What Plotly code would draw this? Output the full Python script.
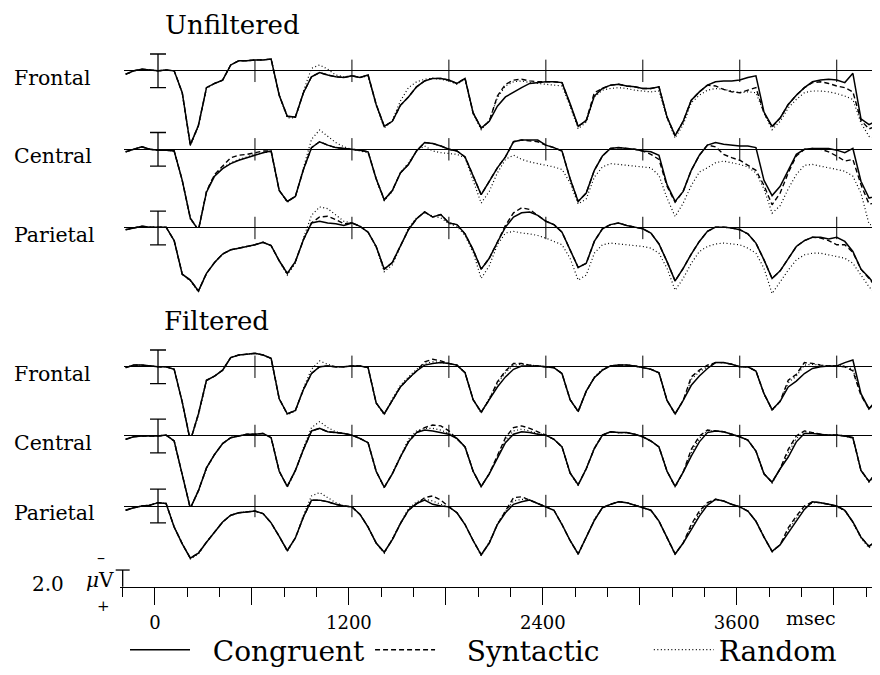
import plotly.graph_objects as go

# sample grid (ms) shared by every waveform
t_ms = list(range(-200, 4501, 50))

# ---- Unfiltered (uV, positive = down) ----
uf_congruent = [
    0.4, 0.0, -0.2, -0.1, 0.0, -0.1, 0.0, 2.6, 8.8, 6.5, 2.0, 1.5,
    1.1, -0.7, -1.2, -1.2, -1.3, -1.3, -1.4, 2.9, 5.4, 5.5, 2.6, 0.7,
    0.2, 0.5, 0.7, 0.8, 0.6, 0.8, 0.5, 4.0, 6.6, 6.0, 4.1, 3.1,
    1.9, 1.2, 0.9, 0.9, 1.1, 1.5, 0.9, 5.0, 6.8, 6.0, 4.2, 3.1,
    2.5, 2.0, 1.5, 1.4, 1.3, 1.3, 1.4, 3.9, 6.6, 5.9, 3.0, 2.1,
    1.7, 1.6, 1.8, 1.9, 2.1, 2.1, 1.9, 5.5, 7.7, 6.0, 3.5, 2.5,
    1.7, 1.3, 1.2, 1.2, 1.1, 0.8, 0.6, 4.9, 6.6, 5.6, 4.0, 2.9,
    2.0, 1.3, 1.1, 1.0, 1.1, 1.4, 0.3, 5.7, 6.4, 5.9, 5.7,
]
uf_syntactic = [
    0.4, 0.0, -0.2, -0.1, 0.0, -0.1, 0.0, 2.6, 8.8, 6.5, 2.0, 1.5,
    1.1, -0.7, -1.2, -1.2, -1.3, -1.3, -1.4, 2.9, 5.4, 5.5, 2.6, 0.7,
    0.2, 0.5, 0.7, 0.8, 0.6, 0.8, 0.5, 4.0, 6.6, 6.0, 4.1, 3.1,
    1.9, 1.2, 0.9, 0.9, 1.1, 1.5, 0.9, 5.0, 6.8, 6.0, 3.0, 1.6,
    1.1, 1.0, 1.2, 1.3, 1.3, 1.3, 1.4, 3.9, 6.6, 5.9, 2.6, 2.1,
    1.7, 1.6, 1.8, 1.9, 2.1, 2.1, 1.9, 5.5, 7.7, 6.0, 3.5, 2.5,
    1.7, 1.8, 2.2, 2.5, 2.6, 2.3, 2.0, 5.0, 6.7, 5.6, 4.0, 2.9,
    2.0, 1.4, 1.3, 1.5, 1.8, 2.0, 2.5, 5.9, 6.9, 6.5, 6.0,
]
uf_random = [
    0.4, 0.0, -0.2, -0.1, 0.0, -0.1, 0.0, 2.6, 8.9, 6.6, 2.1, 1.5,
    1.1, -0.7, -1.2, -1.2, -1.3, -1.3, -1.4, 2.9, 5.6, 5.6, 2.4, -0.3,
    -0.7, -0.2, 0.5, 0.7, 0.6, 0.8, 0.6, 4.1, 6.8, 5.9, 3.6, 2.0,
    1.3, 1.0, 0.9, 1.0, 1.2, 1.6, 1.0, 5.1, 7.0, 5.9, 3.2, 1.8,
    1.3, 1.2, 1.4, 1.5, 1.6, 1.7, 1.8, 4.2, 6.9, 6.1, 3.1, 2.3,
    2.1, 2.0, 2.1, 2.3, 2.4, 2.5, 2.4, 5.6, 8.0, 6.4, 3.8, 2.9,
    2.3, 2.1, 2.2, 2.4, 2.6, 2.5, 2.6, 5.0, 7.0, 6.0, 4.4, 3.4,
    2.6, 2.4, 2.4, 2.5, 2.7, 3.0, 3.4, 6.2, 7.8, 8.1, 7.6,
]
uc_congruent = [
    0.3, 0.0, -0.3, 0.0, 0.1, 0.1, 0.2, 3.7, 8.2, 9.6, 5.1, 3.2,
    2.3, 1.7, 1.3, 1.0, 0.7, 0.4, 0.2, 4.9, 6.2, 5.6, 2.4, -0.2,
    -0.9, -0.5, -0.2, -0.1, 0.0, 0.1, 0.3, 3.5, 6.0, 4.9, 2.8, 1.8,
    0.2, -0.8, -0.7, -0.4, 0.0, 0.2, 0.9, 3.2, 5.4, 3.8, 2.2, 0.9,
    -0.9, -1.1, -1.1, -1.1, -0.5, -0.2, 0.2, 3.5, 6.2, 5.2, 2.5, 0.8,
    -0.1, -0.2, -0.1, 0.0, 0.2, 0.3, 0.7, 4.2, 6.2, 5.0, 2.5, 0.7,
    -0.5, -0.8, -0.6, -0.5, -0.4, -0.4, -0.2, 3.7, 5.5, 4.4, 2.4, 0.6,
    0.0, -0.1, -0.1, -0.1, 0.1, 0.4, -0.1, 3.8, 5.8, 5.5, 5.0,
]
uc_syntactic = [
    0.3, 0.0, -0.3, 0.0, 0.1, 0.1, 0.2, 3.7, 8.2, 9.6, 5.0, 3.0,
    2.0, 1.0, 0.7, 0.6, 0.4, 0.2, 0.2, 4.9, 6.2, 5.6, 2.4, -0.2,
    -0.9, -0.5, -0.2, -0.1, 0.0, 0.1, 0.3, 3.5, 6.0, 4.9, 2.8, 1.8,
    0.2, -0.8, -0.7, -0.4, 0.0, 0.2, 0.9, 3.2, 5.4, 3.8, 2.2, 0.9,
    -0.9, -1.1, -1.0, -0.9, -0.5, -0.2, 0.2, 3.5, 6.2, 5.2, 2.5, 0.8,
    -0.1, -0.2, -0.1, 0.0, 0.2, 0.6, 1.2, 4.4, 6.3, 5.0, 2.5, 0.7,
    -0.5, -0.3, 0.6, 1.0, 1.3, 1.9, 2.5, 4.3, 6.6, 5.2, 2.8, 0.8,
    0.0, -0.1, 0.0, 0.3, 0.8, 1.4, 1.2, 4.2, 6.5, 6.4, 6.0,
]
uc_random = [
    0.3, 0.0, -0.3, 0.0, 0.1, 0.1, 0.2, 3.7, 8.3, 9.6, 5.0, 3.0,
    2.2, 1.6, 1.2, 0.9, 0.6, 0.4, 0.3, 4.8, 6.3, 5.6, 2.2, -1.2,
    -2.3, -1.6, -0.8, -0.3, 0.0, 0.2, 0.4, 3.6, 6.1, 5.0, 2.8, 1.6,
    0.2, -0.4, 0.2, 0.4, 0.5, 0.6, 1.0, 3.6, 6.4, 5.0, 2.8, 1.2,
    0.7, 1.2, 1.5, 1.7, 1.9, 2.1, 2.4, 4.0, 6.5, 5.9, 3.3, 2.1,
    1.7, 1.8, 1.9, 2.0, 2.1, 2.2, 3.1, 5.8, 8.0, 6.4, 4.3, 2.7,
    2.2, 1.6, 1.4, 1.6, 1.8, 2.1, 2.8, 4.7, 7.6, 6.7, 4.7, 3.0,
    1.9, 1.8, 2.0, 2.2, 2.4, 2.6, 3.2, 5.2, 8.9, 9.2, 9.0,
]
up_congruent = [
    0.2, 0.0, -0.2, -0.1, -0.1, -0.1, 1.5, 5.5, 6.2, 7.5, 5.4, 4.1,
    3.1, 2.6, 2.4, 2.2, 2.0, 1.7, 2.1, 3.9, 5.4, 4.0, 1.4, -0.6,
    -0.8, -0.6, -0.5, -0.3, -0.6, -0.2, 0.5, 2.2, 4.9, 4.1, 2.2, 0.2,
    -1.1, -1.9, -1.3, -1.6, -0.6, -0.4, 0.7, 2.6, 4.9, 3.6, 1.7, -0.1,
    -1.3, -1.8, -1.9, -1.5, -0.8, -0.4, 0.5, 2.6, 4.7, 4.2, 1.6, 0.1,
    -0.4, -0.6, -0.3, -0.1, 0.1, 0.6, 1.9, 4.0, 6.3, 4.8, 3.1, 1.6,
    0.4, -0.1, -0.1, 0.0, 0.2, 0.7, 1.8, 3.8, 6.0, 5.1, 3.6, 2.2,
    1.5, 1.1, 1.1, 1.3, 1.1, 1.6, 2.8, 4.9, 5.9, 7.1, 7.8,
]
up_syntactic = [
    0.2, 0.0, -0.2, -0.1, -0.1, -0.1, 1.5, 5.5, 6.2, 7.5, 5.4, 4.1,
    3.1, 2.6, 2.4, 2.2, 2.0, 1.7, 2.1, 3.9, 5.4, 4.0, 1.4, -0.6,
    -1.3, -1.4, -1.0, -0.5, -0.6, -0.2, 0.5, 2.2, 4.9, 4.1, 2.2, 0.2,
    -1.1, -1.9, -1.3, -1.6, -0.6, -0.4, 0.7, 2.6, 4.9, 3.6, 1.7, -0.3,
    -1.8, -2.4, -2.2, -1.5, -0.8, -0.4, 0.5, 2.6, 4.7, 4.2, 1.6, 0.1,
    -0.4, -0.6, -0.3, -0.1, 0.1, 0.6, 1.9, 4.0, 6.3, 4.8, 3.1, 1.6,
    0.4, -0.1, -0.1, 0.0, 0.2, 0.7, 1.8, 3.8, 6.0, 5.1, 3.6, 2.2,
    1.5, 1.1, 1.2, 1.5, 2.0, 2.0, 2.9, 4.9, 6.0, 7.2, 7.9,
]
up_random = [
    0.2, 0.0, -0.2, -0.1, -0.1, -0.1, 1.5, 5.5, 6.3, 7.6, 5.4, 4.1,
    3.1, 2.6, 2.4, 2.2, 2.0, 1.7, 2.1, 3.9, 5.6, 4.2, 1.2, -1.5,
    -2.5, -2.3, -1.5, -0.8, -0.6, -0.2, 0.5, 2.3, 5.2, 4.4, 2.2, 0.0,
    -1.2, -1.8, -1.4, -1.2, -0.5, -0.2, 0.9, 2.9, 6.0, 4.5, 2.0, 0.6,
    0.4, 0.6, 0.7, 0.9, 1.2, 1.6, 2.0, 3.6, 6.2, 5.6, 3.0, 2.0,
    1.8, 1.9, 2.0, 2.1, 2.2, 2.4, 3.0, 4.8, 7.4, 6.0, 4.2, 2.8,
    2.2, 1.9, 1.8, 1.9, 2.0, 2.4, 3.0, 4.8, 7.8, 6.4, 5.0, 3.8,
    3.2, 3.0, 3.0, 3.2, 3.4, 3.6, 4.2, 5.6, 7.0, 8.0, 8.4,
]

# ---- Filtered ----
lf_congruent = [
    0.1, -0.2, -0.2, -0.1, 0.0, 0.0, 0.3, 4.2, 8.8, 5.6, 1.6, 1.1,
    0.4, -1.1, -1.4, -1.5, -1.6, -1.4, -1.0, 3.8, 5.6, 5.2, 2.7, 0.8,
    0.0, -0.1, 0.0, 0.0, -0.1, -0.1, 0.1, 4.3, 5.6, 4.0, 2.4, 1.4,
    0.5, -0.2, -0.4, -0.5, -0.4, -0.2, 0.7, 3.9, 5.4, 3.9, 2.4, 1.2,
    0.3, -0.1, -0.1, -0.1, 0.0, 0.1, 0.8, 3.9, 5.3, 2.9, 1.3, 0.4,
    -0.1, -0.2, -0.2, -0.1, 0.1, 0.3, 0.7, 4.0, 5.6, 4.0, 2.2, 1.1,
    0.2, -0.5, -0.5, -0.3, 0.0, 0.0, 0.5, 3.2, 5.1, 4.1, 2.4, 1.7,
    0.8, 0.2, 0.0, -0.1, -0.1, -0.5, -0.8, 3.2, 5.0, 3.9, 2.5,
]
lf_syntactic = [
    0.1, -0.2, -0.2, -0.1, 0.0, 0.0, 0.3, 4.2, 8.8, 5.6, 1.6, 1.1,
    0.4, -1.1, -1.4, -1.5, -1.6, -1.4, -1.0, 3.8, 5.6, 5.2, 2.7, 0.8,
    0.0, -0.1, 0.0, 0.0, -0.1, -0.1, 0.1, 4.3, 5.6, 4.0, 2.4, 1.4,
    0.5, -0.6, -0.9, -0.7, -0.4, -0.2, 0.7, 3.9, 5.4, 3.9, 1.8, 0.5,
    -0.4, -0.4, -0.2, -0.1, 0.0, 0.1, 0.8, 3.9, 5.3, 2.9, 1.3, 0.4,
    -0.1, -0.2, -0.2, -0.1, 0.1, 0.3, 0.7, 4.0, 5.6, 4.0, 1.2, 0.4,
    -0.2, -0.5, -0.5, -0.3, 0.0, 0.0, 0.5, 3.2, 5.1, 4.1, 1.6, 0.9,
    -0.5, -0.4, -0.2, -0.1, -0.1, 0.0, 0.5, 3.4, 5.0, 3.9, 2.5,
]
lf_random = [
    0.1, -0.2, -0.2, -0.1, 0.0, 0.0, 0.3, 4.2, 8.8, 5.8, 1.7, 1.1,
    0.4, -1.1, -1.4, -1.5, -1.6, -1.4, -1.0, 3.8, 5.7, 5.3, 2.5, 0.3,
    -0.7, -0.3, 0.0, 0.0, -0.1, -0.1, 0.1, 4.3, 5.7, 3.8, 2.2, 1.2,
    0.3, -0.4, -0.6, -0.5, -0.4, -0.2, 0.7, 3.9, 5.5, 3.7, 2.0, 0.7,
    -0.2, -0.3, -0.2, -0.1, 0.0, 0.1, 0.8, 3.9, 5.4, 2.9, 1.2, 0.3,
    -0.1, -0.2, -0.2, -0.1, 0.1, 0.3, 0.7, 4.0, 5.7, 4.0, 1.5, 0.6,
    0.0, -0.5, -0.5, -0.3, 0.0, 0.0, 0.5, 3.2, 5.2, 4.1, 1.9, 1.1,
    -0.2, -0.3, -0.2, -0.1, -0.1, -0.1, 0.3, 3.3, 5.1, 3.9, 2.5,
]
lc_congruent = [
    0.4, 0.1, 0.0, 0.0, 0.0, -0.1, 0.6, 4.6, 8.6, 6.5, 3.8, 2.2,
    0.9, 0.2, 0.0, -0.2, -0.2, -0.3, 0.2, 4.2, 6.0, 4.1, 1.6, -0.6,
    -0.9, -0.5, -0.4, -0.3, -0.1, 0.3, 0.8, 4.2, 6.1, 4.5, 2.5, 0.7,
    -0.4, -0.7, -0.6, -0.4, -0.2, 0.3, 1.3, 4.2, 6.0, 4.5, 2.7, 0.8,
    -0.2, -0.5, -0.4, -0.2, -0.1, 0.4, 1.3, 4.4, 5.8, 3.9, 1.5, -0.1,
    -0.5, -0.4, -0.4, -0.2, 0.1, 0.6, 1.3, 4.2, 6.0, 4.3, 2.4, 0.7,
    -0.4, -0.6, -0.5, -0.2, 0.1, 0.5, 1.8, 4.5, 5.5, 3.9, 2.5, 0.7,
    -0.3, -0.3, -0.2, -0.1, -0.1, 0.0, 0.2, 4.1, 5.4, 4.3, 3.4,
]
lc_syntactic = [
    0.4, 0.1, 0.0, 0.0, 0.0, -0.1, 0.6, 4.6, 8.6, 6.5, 3.8, 2.2,
    0.9, 0.2, 0.0, -0.2, -0.2, -0.3, 0.2, 4.2, 6.0, 4.1, 1.6, -0.6,
    -0.9, -0.5, -0.4, -0.3, -0.1, 0.3, 0.8, 4.2, 6.1, 4.5, 2.5, 0.7,
    -0.4, -1.0, -1.3, -1.2, -0.6, 0.3, 1.3, 4.2, 6.0, 4.5, 2.4, 0.2,
    -1.0, -1.2, -0.9, -0.5, -0.1, 0.4, 1.3, 4.4, 5.8, 3.9, 1.5, -0.1,
    -0.5, -0.4, -0.4, -0.2, 0.1, 0.6, 1.3, 4.2, 6.0, 4.3, 1.6, 0.0,
    -0.7, -0.6, -0.5, -0.2, 0.1, 0.5, 1.8, 4.5, 5.5, 3.9, 1.6, 0.0,
    -0.6, -0.4, -0.2, -0.1, -0.1, 0.0, 0.2, 4.1, 5.4, 4.3, 3.4,
]
lc_random = [
    0.4, 0.1, 0.0, 0.0, 0.0, -0.1, 0.6, 4.6, 8.6, 6.6, 3.9, 2.2,
    0.9, 0.2, 0.0, -0.2, -0.2, -0.3, 0.2, 4.2, 6.1, 4.2, 1.4, -1.0,
    -1.7, -1.0, -0.5, -0.3, -0.1, 0.3, 0.8, 4.2, 6.2, 4.4, 2.3, 0.4,
    -0.6, -0.9, -0.9, -0.7, -0.3, 0.3, 1.3, 4.2, 6.1, 4.4, 2.5, 0.5,
    -0.6, -0.8, -0.6, -0.3, -0.1, 0.4, 1.3, 4.4, 5.9, 3.9, 1.4, -0.1,
    -0.5, -0.4, -0.4, -0.2, 0.1, 0.6, 1.3, 4.2, 6.1, 4.3, 2.0, 0.3,
    -0.6, -0.6, -0.5, -0.2, 0.1, 0.5, 1.8, 4.5, 5.6, 3.9, 2.0, 0.3,
    -0.5, -0.4, -0.2, -0.1, -0.1, 0.0, 0.3, 4.1, 5.5, 4.4, 3.5,
]
lp_congruent = [
    0.5, 0.2, 0.0, -0.1, -0.4, -0.3, 2.5, 4.5, 6.2, 5.6, 4.3, 3.1,
    1.9, 1.1, 0.8, 0.7, 0.6, 0.9, 2.0, 3.6, 5.3, 3.8, 1.3, -0.7,
    -0.7, -0.5, -0.2, 0.0, 0.1, 1.0, 2.5, 4.4, 5.5, 4.0, 2.1, 0.5,
    -0.3, -0.7, -0.2, 0.0, 0.1, 0.8, 2.2, 4.1, 5.8, 4.4, 2.2, 0.8,
    -0.2, -0.5, -0.7, -0.3, 0.1, 0.5, 2.2, 4.1, 5.7, 3.6, 1.7, 0.2,
    -0.2, -0.5, -0.4, -0.1, 0.2, 0.5, 1.8, 3.8, 5.7, 4.4, 2.8, 1.2,
    -0.1, -0.8, -0.6, -0.2, 0.1, 0.6, 1.8, 3.7, 5.4, 4.6, 3.2, 1.8,
    0.4, -0.5, -0.4, -0.2, 0.0, 0.5, 1.9, 3.7, 4.8, 4.0, 3.0,
]
lp_syntactic = [
    0.5, 0.2, 0.0, -0.1, -0.4, -0.3, 2.5, 4.5, 6.2, 5.6, 4.3, 3.1,
    1.9, 1.1, 0.8, 0.7, 0.6, 0.9, 2.0, 3.6, 5.3, 3.8, 1.3, -0.7,
    -0.7, -0.5, -0.2, 0.0, 0.1, 1.0, 2.5, 4.4, 5.5, 4.0, 2.1, 0.5,
    -0.3, -1.0, -1.2, -0.7, 0.1, 0.8, 2.2, 4.1, 5.8, 4.4, 2.2, 0.6,
    -1.0, -1.1, -0.7, -0.3, 0.1, 0.5, 2.2, 4.1, 5.7, 3.6, 1.7, 0.2,
    -0.2, -0.5, -0.4, -0.1, 0.2, 0.5, 1.8, 3.8, 5.7, 4.4, 2.2, 0.6,
    -0.4, -0.8, -0.6, -0.2, 0.1, 0.6, 1.8, 3.7, 5.4, 4.6, 2.6, 1.2,
    0.0, -0.5, -0.4, -0.2, 0.0, 0.5, 1.9, 3.7, 4.8, 4.0, 3.0,
]
lp_random = [
    0.5, 0.2, 0.0, -0.1, -0.4, -0.3, 2.5, 4.5, 6.3, 5.7, 4.3, 3.1,
    1.9, 1.1, 0.8, 0.7, 0.6, 0.9, 2.0, 3.6, 5.4, 3.8, 1.1, -1.2,
    -1.6, -1.0, -0.4, 0.0, 0.1, 1.0, 2.5, 4.4, 5.6, 3.9, 2.0, 0.3,
    -0.5, -0.8, -0.6, -0.2, 0.1, 0.8, 2.2, 4.1, 5.9, 4.3, 2.1, 0.6,
    -0.6, -0.8, -0.7, -0.3, 0.1, 0.5, 2.2, 4.1, 5.8, 3.6, 1.6, 0.2,
    -0.2, -0.5, -0.4, -0.1, 0.2, 0.5, 1.8, 3.8, 5.8, 4.4, 2.5, 0.9,
    -0.3, -0.8, -0.6, -0.2, 0.1, 0.6, 1.8, 3.7, 5.5, 4.6, 2.9, 1.5,
    0.2, -0.4, -0.4, -0.2, 0.1, 0.6, 2.0, 3.8, 5.0, 4.1, 3.1,
]

conditions = ["Congruent", "Syntactic", "Random"]
baseline_ticks = [600, 1200, 1800, 2400, 3000, 3600, 4200]
axis_major = [0, 600, 1200, 1800, 2400, 3000, 3600, 4200]
axis_labels = ["0", "", "1200", "", "2400", "", "3600", ""]
axis_minor_step = 200
cal_uv = 2.0

# page geometry: the page body adds an 8px margin, so the figure is drawn
# 8px smaller and every reference pixel is shifted by that amount
OFF = 8
W, H = 880 - OFF, 675 - OFF
PX_PER_MS = 0.1616
PX_PER_UV = 8.5
ROW_T0 = 158      # x pixel of 0 ms in the waveform rows
AXIS_T0 = 155     # x pixel of 0 ms on the time axis
AXIS_Y = 593
SERIF = "DejaVu Serif"


def fx(px):
    return (px - OFF) / W


def fy(py):
    return 1 - (py - OFF) / H


# label, baseline, top, bottom (pixels), traces
rows = [
    ("Frontal", 71.5, 45, 150.8, (uf_congruent, uf_syntactic, uf_random)),
    ("Central", 150.8, 118, 230.3, (uc_congruent, uc_syntactic, uc_random)),
    ("Parietal", 230.3, 198, 305, (up_congruent, up_syntactic, up_random)),
    ("Frontal", 370.6, 340, 440.5, (lf_congruent, lf_syntactic, lf_random)),
    ("Central", 440.5, 410, 511.3, (lc_congruent, lc_syntactic, lc_random)),
    ("Parietal", 511.3, 480, 585, (lp_congruent, lp_syntactic, lp_random)),
]

line_styles = {
    "Congruent": dict(color="black", width=1.5),
    "Syntactic": dict(color="black", width=1.4, dash="5px,3px"),
    "Random": dict(color="black", width=1.2, dash="1px,2.5px"),
}
# non-breaking spaces set the gaps between legend entries
NB = "\u00a0"
legend_names = {
    "Congruent": NB * 2 + "Congruent",
    "Syntactic": NB * 3 + "Syntactic" + NB * 5,
    "Random": "Random",
}

fig = go.Figure()
layout_axes = {}
annotations = []

row_start = -210
for i, (label, base, top, bottom, series) in enumerate(rows, start=1):
    yref = "y" if i == 1 else f"y{i}"
    ykey = "yaxis" if i == 1 else f"yaxis{i}"
    for name, values in zip(conditions, series):
        fig.add_trace(go.Scatter(
            x=t_ms, y=values, mode="lines", name=legend_names[name], legendgroup=name,
            showlegend=(i == 1), line=line_styles[name], xaxis="x", yaxis=yref,
            hoverinfo="skip"))
    # calibration I-bar at stimulus onset
    fig.add_trace(go.Scatter(
        x=[0], y=[0], mode="markers", marker=dict(size=1, color="rgba(0,0,0,0)"),
        error_y=dict(type="data", array=[cal_uv], symmetric=True, width=8,
                     thickness=1.3, color="black"),
        showlegend=False, hoverinfo="skip", xaxis="x", yaxis=yref))
    # word-onset ticks on the baseline
    fig.add_trace(go.Scatter(
        x=baseline_ticks, y=[0] * len(baseline_ticks), mode="markers",
        marker=dict(symbol="line-ns", size=16, color="black",
                    line=dict(width=1, color="black")),
        cliponaxis=False, showlegend=False, hoverinfo="skip", xaxis="x", yaxis=yref))
    layout_axes[ykey] = dict(
        domain=[fy(bottom), fy(top)],
        range=[(bottom - base) / PX_PER_UV, (top - base) / PX_PER_UV],
        anchor="x", showgrid=False, showticklabels=False, ticks="", showline=False,
        zeroline=True, zerolinecolor="black", zerolinewidth=1, fixedrange=True)
    annotations.append(dict(
        text=label, x=fx(12), y=fy(base + 7), xref="paper", yref="paper",
        xanchor="left", yanchor="middle", showarrow=False,
        font=dict(family=SERIF, size=20.5, color="black")))

layout_axes["xaxis"] = dict(
    domain=[fx(ROW_T0 + row_start * PX_PER_MS), 1],
    range=[row_start, (880 - ROW_T0) / PX_PER_MS],
    anchor="y", visible=False, fixedrange=True)

# time axis with the 2.0 uV calibration T
axis_start = -215
axis_dom = [fx(AXIS_T0 + axis_start * PX_PER_MS), 1]
axis_rng = [axis_start, (880 - AXIS_T0) / PX_PER_MS]
fig.add_trace(go.Scatter(
    x=[-200, -200], y=[0, -cal_uv], mode="lines", line=dict(color="black", width=1.3),
    showlegend=False, hoverinfo="skip", xaxis="x2", yaxis="y7"))
fig.add_trace(go.Scatter(
    x=[-200], y=[-cal_uv], mode="markers",
    marker=dict(symbol="line-ew", size=10, line=dict(width=1.3, color="black")),
    cliponaxis=False, showlegend=False, hoverinfo="skip", xaxis="x2", yaxis="y7"))

layout_axes["yaxis7"] = dict(
    domain=[fy(625), fy(555)],
    range=[(625 - AXIS_Y) / PX_PER_UV, (555 - AXIS_Y) / PX_PER_UV],
    anchor="x2", visible=False, fixedrange=True)
layout_axes["xaxis2"] = dict(
    domain=axis_dom, range=axis_rng, anchor="free", position=fy(AXIS_Y),
    showline=True, linecolor="black", linewidth=1, showgrid=False, zeroline=False,
    ticks="outside", ticklen=17, tickwidth=1, tickcolor="black",
    tickmode="array", tickvals=axis_major, ticktext=axis_labels,
    ticklabelstandoff=3,
    tickfont=dict(family=SERIF, size=18, color="black"),
    minor=dict(ticks="outside", ticklen=9, tickwidth=1, tickcolor="black",
               tickmode="linear", tick0=-200, dtick=axis_minor_step, showgrid=False),
    fixedrange=True)
layout_axes["xaxis3"] = dict(
    domain=axis_dom, range=axis_rng, overlaying="x2", anchor="free",
    position=fy(AXIS_Y), showline=False, showgrid=False, zeroline=False,
    ticks="inside", ticklen=16, tickwidth=1, tickcolor="black",
    tickmode="array", tickvals=axis_major, showticklabels=False,
    minor=dict(ticks="inside", ticklen=6, tickwidth=1, tickcolor="black",
               tickmode="linear", tick0=-200, dtick=axis_minor_step, showgrid=False),
    fixedrange=True)

# (text, x px, y px, xanchor, yanchor, font size)
text_items = [
    ("Unfiltered", 163, 8, "left", "top", 26),
    ("Filtered", 162, 324, "left", "middle", 26),
    ("2.0", 66, 590, "right", "middle", 20),
    ("<i>μ</i>V", 116, 600, "right", "bottom", 20),
    ("–", 101, 563, "center", "middle", 16),
    ("+", 103, 601, "center", "top", 15),
    ("msec", 811, 624, "center", "middle", 19),
]
for text, px, py, xanchor, yanchor, size in text_items:
    annotations.append(dict(
        text=text, x=fx(px), y=fy(py), xref="paper", yref="paper",
        xanchor=xanchor, yanchor=yanchor, showarrow=False,
        font=dict(family=SERIF, size=size, color="black")))

fig.update_layout(
    width=W, height=H, margin=dict(l=0, r=0, t=0, b=0),
    paper_bgcolor="white", plot_bgcolor="rgba(0,0,0,0)",
    annotations=annotations, showlegend=True,
    legend=dict(orientation="h", x=fx(125), y=fy(657), xanchor="left",
                yanchor="middle", itemwidth=60, bgcolor="rgba(0,0,0,0)",
                font=dict(family=SERIF, size=28, color="black")),
    **layout_axes)

fig.write_html("out.html")
